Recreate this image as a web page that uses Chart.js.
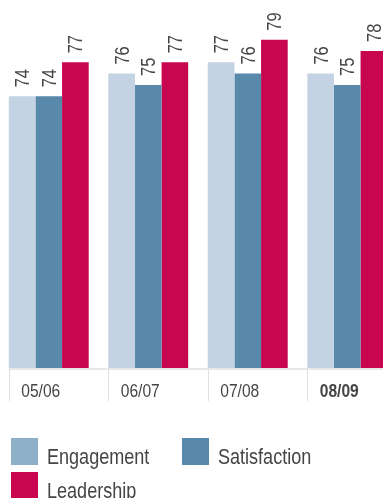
<!DOCTYPE html>
<html>
<head>
<meta charset="utf-8">
<script src="https://cdn.jsdelivr.net/npm/chart.js@4.4.1/dist/chart.umd.min.js"></script>
<style>
  html, body { margin: 0; padding: 0; background: #fff; overflow: hidden; }
  #chart { display: block; margin-left: -1px; }
</style>
</head>
<body>
<canvas id="chart" width="398" height="498"></canvas>
<script>
const years = ['05/06', '06/07', '07/08', '08/09'];
const engagement = [74, 76, 77, 76];
const satisfaction = [74, 75, 76, 75];
const leadership = [77, 77, 79, 78];

const FONT = "'Liberation Sans', Arial, sans-serif";
const TEXT = '#454545';
const SQUEEZE = 0.82;   // narrow the text, condensed look

// write text squeezed horizontally, starting at x
function narrowText(ctx, str, x, y) {
    ctx.save();
    ctx.translate(x, y);
    ctx.scale(SQUEEZE, 1);
    ctx.fillText(str, 0, 0);
    ctx.restore();
}

// values written upright above each bar
const barValues = {
    id: 'barValues',
    afterDatasetsDraw(chart) {
        const ctx = chart.ctx;
        ctx.save();
        ctx.font = '300 20px ' + FONT;
        ctx.fillStyle = TEXT;
        ctx.textAlign = 'left';
        ctx.textBaseline = 'alphabetic';
        chart.data.datasets.forEach((ds, i) => {
            chart.getDatasetMeta(i).data.forEach((bar, j) => {
                ctx.save();
                ctx.translate(bar.x, bar.y - 9);
                ctx.rotate(-Math.PI / 2);
                ctx.scale(SQUEEZE, 1);
                ctx.fillText(ds.data[j], 0, 7);
                ctx.restore();
            });
        });
        ctx.restore();
    }
};

// base line, short separators and the year labels under each group
const axisLines = {
    id: 'axisLines',
    afterDraw(chart) {
        const ctx = chart.ctx;
        const area = chart.chartArea;
        const first = chart.getDatasetMeta(0).data;
        ctx.save();
        ctx.strokeStyle = '#e2deda';
        ctx.lineWidth = 1.5;
        ctx.beginPath();
        const x0 = first[0].x - first[0].width / 2;
        ctx.moveTo(x0, area.bottom + 1);
        ctx.lineTo(chart.width, area.bottom + 1);
        ctx.stroke();
        ctx.lineWidth = 1;
        first.forEach(bar => {
            const x = Math.round(bar.x - bar.width / 2) + 0.5;
            ctx.beginPath();
            ctx.moveTo(x, area.bottom + 1);
            ctx.lineTo(x, area.bottom + 33);
            ctx.stroke();
        });

        const xs = chart.scales.x;
        ctx.fillStyle = TEXT;
        ctx.textAlign = 'left';
        ctx.textBaseline = 'alphabetic';
        years.forEach((y, i) => {
            ctx.font = (i === years.length - 1 ? 'bold ' : '') + '19px ' + FONT;
            narrowText(ctx, y, xs.getPixelForTick(i) - 27.5, area.bottom + 29);
        });
        ctx.restore();
    }
};

// legend boxes, two per row
const legendBoxes = {
    id: 'legendBoxes',
    afterDraw(chart) {
        const ctx = chart.ctx;
        const spots = [[12, 438], [183, 438], [12, 472]];
        ctx.save();
        ctx.font = '22px ' + FONT;
        ctx.textBaseline = 'alphabetic';
        ctx.textAlign = 'left';
        chart.data.datasets.forEach((ds, i) => {
            const [x, y] = spots[i];
            ctx.fillStyle = ds.legendColor;
            ctx.fillRect(x, y, 27, 27);
            ctx.fillStyle = TEXT;
            narrowText(ctx, ds.label, x + 36, y + 26);
        });
        ctx.restore();
    }
};

new Chart(document.getElementById('chart'), {
    type: 'bar',
    data: {
        labels: years,
        datasets: [
            { label: 'Engagement', data: engagement, backgroundColor: '#c3d3e3', legendColor: '#8eafc8' },
            { label: 'Satisfaction', data: satisfaction, backgroundColor: '#5889ab', legendColor: '#5889ab' },
            { label: 'Leadership', data: leadership, backgroundColor: '#c8064f', legendColor: '#c8064f' }
        ]
    },
    options: {
        responsive: false,
        animation: false,
        datasets: {
            bar: { categoryPercentage: 0.803, barPercentage: 1, borderWidth: 0 }
        },
        layout: { padding: 0 },
        plugins: {
            legend: { display: false },
            tooltip: { enabled: false }
        },
        scales: {
            x: {
                grid: { display: false, drawTicks: false },
                border: { display: false },
                ticks: { display: false },
                afterFit: scale => { scale.height = 130; }
            },
            y: {
                display: false,
                min: 50,
                max: 82.5
            }
        }
    },
    plugins: [barValues, axisLines, legendBoxes]
});
</script>
</body>
</html>
